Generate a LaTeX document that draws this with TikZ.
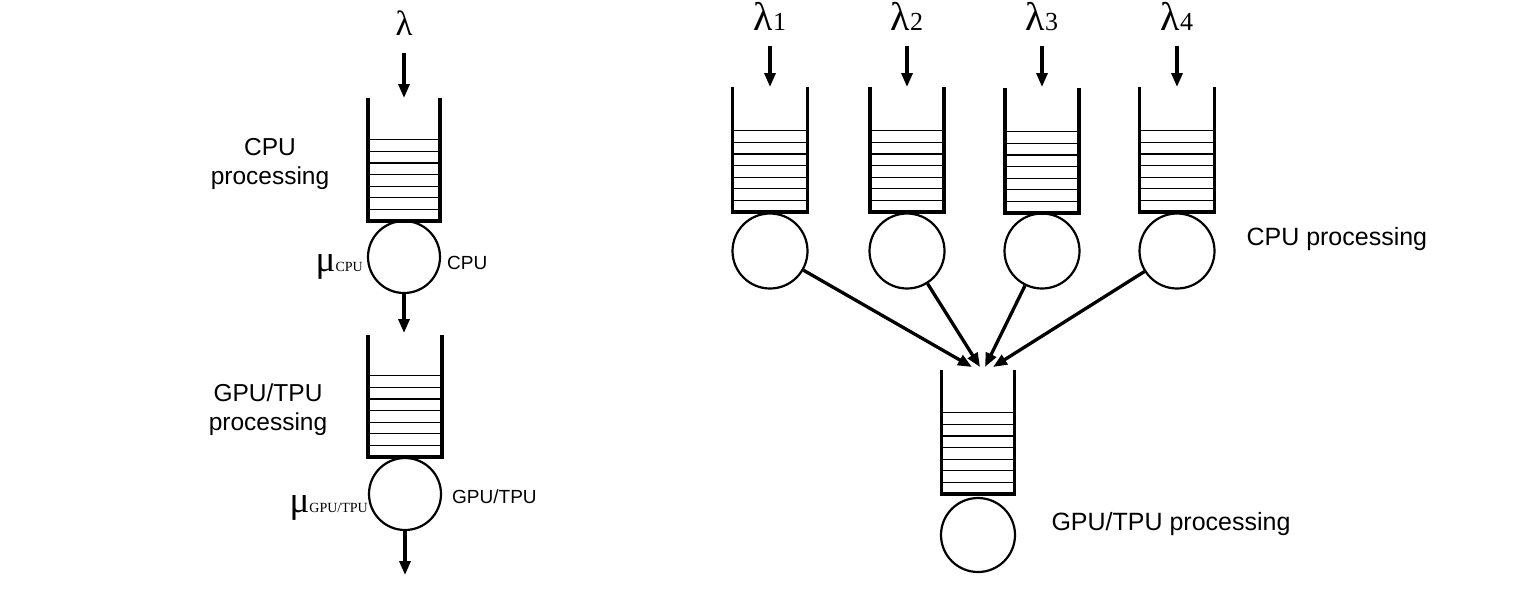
\documentclass[tikz,border=0pt]{standalone}
\usepackage{fontspec}
\setmainfont{Liberation Sans}
\newfontfamily\greekfont{Liberation Serif}
\usetikzlibrary{arrows.meta}

\begin{document}
\begin{tikzpicture}[x=1pt, y=-1pt,
    wall/.style={line width=3.6pt, line join=miter},
    slot/.style={line width=1.1pt},
    server/.style={circle, draw, line width=2.2pt, inner sep=0pt},
    flow/.style={-{Triangle[length=14pt,width=11pt]}, line width=3.3pt},
    biglabel/.style={font=\fontsize{24.5}{29}\selectfont, align=center},
    smalllabel/.style={font=\fontsize{19}{22}\selectfont}]
        \useasboundingbox (0,0) rectangle (1538,595);

        % queues (center x / top / bottom / half width)
        \foreach \x/\t/\b/\w in {404/98/221/36, 405/335/457/37, 770/87/212/37.5, 907/87/212/37,
                                 1042/88/213/37, 1177/87/212/37.5, 978/370/494/36.5} {
            \draw[wall] (\x-\w,\t) -- (\x-\w,\b) -- (\x+\w,\b) -- (\x+\w,\t);
            \foreach \k in {1,...,7}
                \draw[slot] (\x-\w,\b-\k*11.6) -- (\x+\w,\b-\k*11.6);
        }

        % single pipeline
        \node[anchor=base, font=\greekfont\fontsize{35}{35}\selectfont] (lam) at (404,35) {λ};
        \coordinate (cpuin) at (404,98);
        \draw[flow, shorten <=14pt] (lam) -- (cpuin);
        \node[biglabel] (cpulabel) at (270,164) {CPU\\processing};
        \node[server, minimum size=72pt] (cpu) at (404,257) {};
        \node[anchor=base east, inner sep=0pt, font=\greekfont] (mucpu) at (363,271)
            {\fontsize{37}{37}\selectfont μ\fontsize{14}{14}\selectfont CPU};
        \node[smalllabel, anchor=base west, inner sep=0pt] (cpuname) at (447,269) {CPU};

        \coordinate (gpuin) at (404,333);
        \draw[flow] (cpu) -- (gpuin);
        \node[biglabel] (gpulabel) at (268,410) {GPU/TPU\\processing};
        \node[server, minimum size=72pt] (gpu) at (405,494) {};
        \node[anchor=base east, inner sep=0pt, font=\greekfont] (mugpu) at (368,512)
            {\fontsize{37}{37}\selectfont μ\fontsize{14}{14}\selectfont GPU/TPU};
        \node[smalllabel, anchor=base west, inner sep=0pt] (gpuname) at (452,503) {GPU/TPU};
        \coordinate (out) at (405,575);
        \draw[flow] (gpu) -- (out);

        % four CPU queues feeding one GPU/TPU queue
        \node[server, minimum size=74pt] (gpum) at (978,535) {};
        \foreach \i/\x/\j in {1/770/972, 2/907/980, 3/1042/985, 4/1177/993} {
            \node[anchor=base, font=\greekfont] (lam\i) at (\x,30)
                {\fontsize{40}{40}\selectfont λ\fontsize{26}{26}\selectfont\i};
            \coordinate (in\i) at (\x,87);
            \draw[flow, shorten <=12pt] (lam\i) -- (in\i);
            \node[server, minimum size=75pt] (cpu\i) at (\x,251) {};
            \coordinate (join\i) at (\j,367);
            \draw[flow] (cpu\i) -- (join\i);
        }
        \node[biglabel, font=\fontsize{25}{28}\selectfont, anchor=base west] (cpumlabel) at (1243,245) {CPU processing};
        \node[biglabel, font=\fontsize{25}{28}\selectfont, anchor=base west] (gpumlabel) at (1048,530) {GPU/TPU processing};

\end{tikzpicture}
\end{document}
